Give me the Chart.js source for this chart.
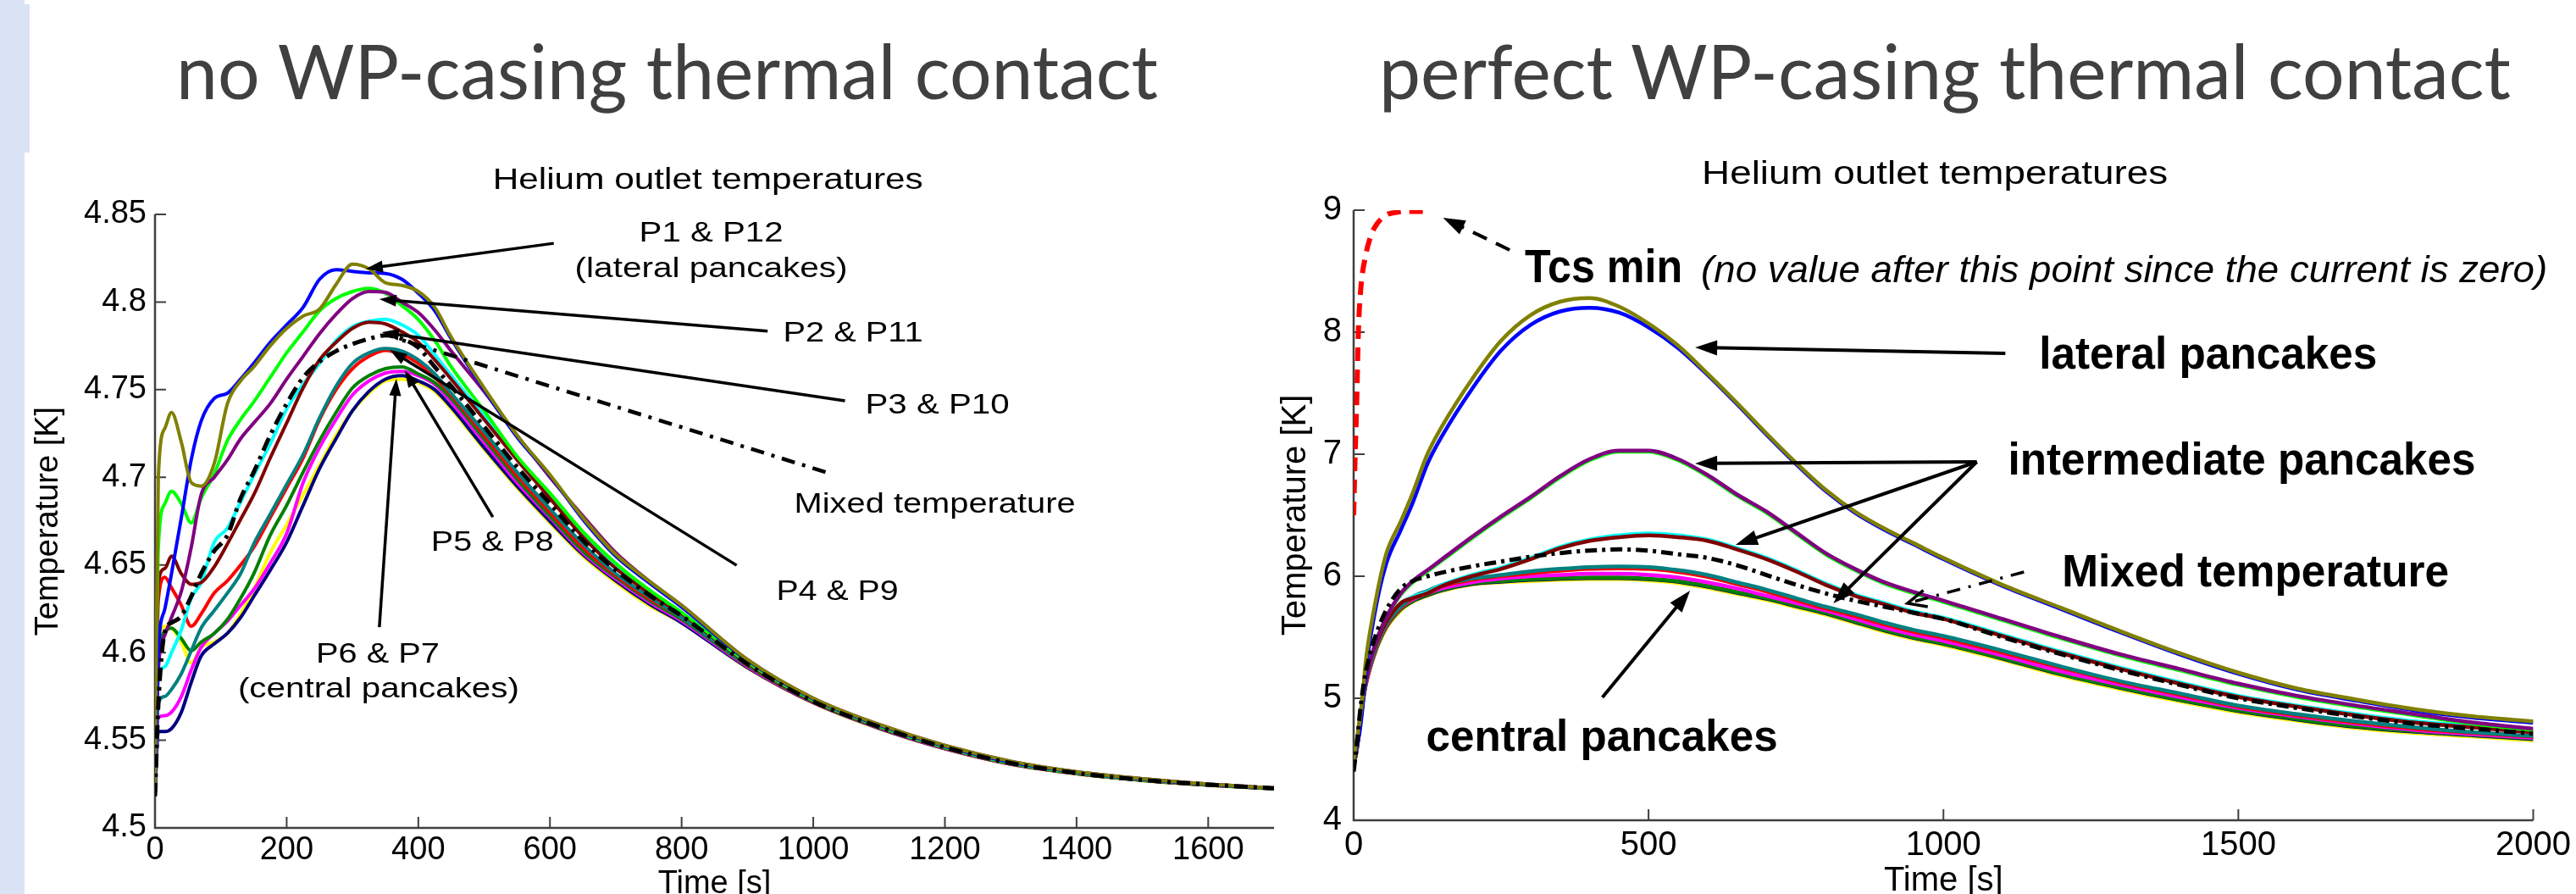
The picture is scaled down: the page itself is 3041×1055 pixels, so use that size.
<!DOCTYPE html>
<html><head><meta charset="utf-8">
<script src="https://cdn.jsdelivr.net/npm/chart.js@4.4.1/dist/chart.umd.min.js"></script>
<style>
html,body{margin:0;padding:0;background:#fff;width:3041px;height:1055px;overflow:hidden;position:relative}
.strip{position:absolute;background:#dae3f3}
.ttl{position:absolute;top:0;left:0;font-family:Lato,'Open Sans',sans-serif;font-weight:400;font-size:90px;line-height:110px;color:#404040;white-space:nowrap;transform-origin:0 0}
canvas{position:absolute;top:0}
</style></head><body>
<div class="strip" style="left:0;top:0;width:29px;height:1055px"></div>
<div class="strip" style="left:29px;top:5px;width:6px;height:175px"></div>
<div id="ttlL" class="ttl">no WP-casing thermal contact</div>
<div id="ttlR" class="ttl">perfect WP-casing thermal contact</div>
<canvas id="cL" width="1520" height="1100" style="left:0"></canvas>
<canvas id="cR" width="1581" height="1100" style="left:1460px"></canvas>
<script>
// ---------- LEFT: no WP-casing thermal contact ----------
const tL = [0,5,15,25,40,55,70,90,110,130,150,175,200,225,250,275,300,325,350,375,400,425,450,500,550,600,650,700,750,800,900,1000,1100,1200,1300,1400,1500,1600,1700];
const oliveL   = [4.52,4.70,4.728,4.737,4.72,4.697,4.695,4.708,4.742,4.755,4.763,4.775,4.785,4.792,4.796,4.810,4.8216,4.819,4.811,4.8095,4.806,4.797,4.780,4.751,4.724,4.7015,4.677,4.656,4.641,4.627,4.596,4.574,4.559,4.547,4.538,4.532,4.528,4.525,4.5228];
const blueL    = [4.52,4.60,4.625,4.645,4.677,4.71,4.732,4.745,4.748,4.756,4.765,4.777,4.787,4.797,4.813,4.8185,4.8175,4.8167,4.8163,4.813,4.805,4.795,4.779,4.750,4.723,4.701,4.676,4.655,4.640,4.626,4.5955,4.5735,4.5585,4.5465,4.5375,4.5318,4.5278,4.5248,4.5226];
const greenL   = [4.52,4.66,4.685,4.692,4.685,4.674,4.688,4.702,4.721,4.733,4.743,4.757,4.771,4.783,4.795,4.802,4.806,4.8078,4.805,4.798,4.790,4.778,4.763,4.738,4.712,4.691,4.669,4.651,4.636,4.623,4.5945,4.5728,4.558,4.546,4.537,4.5314,4.5275,4.5247,4.5225];
const purpleL  = [4.52,4.59,4.61,4.62,4.635,4.66,4.69,4.70,4.71,4.722,4.731,4.742,4.756,4.769,4.782,4.793,4.802,4.806,4.8055,4.800,4.794,4.784,4.772,4.749,4.724,4.700,4.678,4.657,4.641,4.627,4.596,4.574,4.559,4.547,4.538,4.532,4.528,4.525,4.5228];
const cyanL    = [4.52,4.585,4.592,4.600,4.613,4.631,4.640,4.663,4.671,4.686,4.701,4.719,4.739,4.753,4.765,4.778,4.786,4.789,4.7902,4.787,4.781,4.770,4.758,4.735,4.711,4.689,4.667,4.649,4.635,4.622,4.594,4.5725,4.558,4.546,4.537,4.5313,4.5274,4.5246,4.5225];
const maroonL  = [4.52,4.64,4.648,4.655,4.645,4.639,4.640,4.649,4.662,4.676,4.690,4.711,4.731,4.751,4.767,4.777,4.785,4.7885,4.7875,4.783,4.777,4.767,4.756,4.733,4.710,4.688,4.666,4.648,4.634,4.622,4.5938,4.5723,4.5578,4.546,4.537,4.5313,4.5274,4.5246,4.5225];
const mixedL   = [4.518,4.57,4.612,4.617,4.621,4.632,4.645,4.658,4.667,4.688,4.703,4.724,4.742,4.757,4.766,4.772,4.776,4.779,4.781,4.779,4.774,4.763,4.752,4.729,4.706,4.685,4.664,4.647,4.633,4.621,4.5935,4.5722,4.5577,4.546,4.537,4.5313,4.5274,4.5247,4.5226];
const tealL    = [4.52,4.571,4.575,4.579,4.588,4.601,4.614,4.624,4.634,4.645,4.662,4.679,4.696,4.713,4.734,4.752,4.765,4.771,4.7735,4.772,4.767,4.759,4.748,4.726,4.703,4.682,4.662,4.645,4.632,4.620,4.593,4.572,4.5575,4.5458,4.5368,4.5312,4.5273,4.5246,4.5225];
const redL     = [4.52,4.63,4.643,4.637,4.627,4.615,4.622,4.634,4.641,4.650,4.660,4.677,4.694,4.711,4.733,4.750,4.762,4.769,4.7724,4.770,4.765,4.757,4.747,4.724,4.701,4.680,4.660,4.644,4.631,4.620,4.5928,4.572,4.5574,4.5457,4.5367,4.5311,4.5273,4.5245,4.5225];
const dkgreenL = [4.52,4.595,4.612,4.614,4.608,4.601,4.606,4.611,4.619,4.631,4.645,4.667,4.684,4.703,4.721,4.737,4.751,4.758,4.762,4.763,4.759,4.754,4.745,4.722,4.699,4.678,4.658,4.643,4.630,4.619,4.5925,4.5718,4.5572,4.5455,4.5366,4.5311,4.5272,4.5245,4.5224];
const magentaL = [4.52,4.563,4.564,4.566,4.575,4.59,4.603,4.611,4.618,4.627,4.636,4.651,4.668,4.697,4.717,4.733,4.747,4.755,4.7595,4.7605,4.758,4.753,4.743,4.720,4.697,4.677,4.657,4.642,4.629,4.618,4.592,4.5716,4.557,4.5453,4.5365,4.531,4.5272,4.5245,4.5224];
const navyL    = [4.52,4.555,4.555,4.5566,4.566,4.583,4.598,4.605,4.611,4.62,4.632,4.647,4.663,4.684,4.705,4.722,4.738,4.749,4.756,4.758,4.755,4.750,4.740,4.717,4.695,4.675,4.656,4.641,4.628,4.617,4.5915,4.5714,4.5568,4.5452,4.5364,4.5309,4.5271,4.5244,4.5223];
const yellowL  = [4.52,4.60,4.615,4.614,4.606,4.594,4.603,4.606,4.611,4.622,4.636,4.657,4.673,4.690,4.707,4.724,4.738,4.748,4.755,4.756,4.754,4.749,4.739,4.716,4.694,4.674,4.655,4.640,4.627,4.617,4.5912,4.5712,4.5566,4.5451,4.5363,4.5308,4.527,4.5243,4.5222];
const xTicksL = [0,200,400,600,800,1000,1200,1400,1600];
const yTicksL = [4.5,4.55,4.6,4.65,4.7,4.75,4.8,4.85];

// ---------- RIGHT: perfect WP-casing thermal contact ----------
const tR = [0,5,10,15,20,35,55,80,100,125,150,200,250,300,350,400,450,500,550,600,650,700,750,800,850,900,950,1000,1100,1200,1300,1400,1500,1600,1700,1800,1900,2000];
const oliveR   = [4.5,4.65,4.8,5.0,5.28,5.74,6.18,6.45,6.68,7.0,7.23,7.61,7.93,8.14,8.25,8.28,8.21,8.07,7.89,7.66,7.42,7.17,6.93,6.71,6.53,6.39,6.27,6.15,5.93,5.74,5.55,5.37,5.21,5.08,4.99,4.91,4.85,4.81];
const blueR    = [4.5,4.6,4.72,4.92,5.2,5.68,6.1,6.38,6.6,6.92,7.15,7.53,7.85,8.06,8.17,8.20,8.16,8.04,7.87,7.65,7.41,7.16,6.92,6.70,6.52,6.38,6.26,6.14,5.92,5.73,5.54,5.36,5.20,5.07,4.98,4.90,4.84,4.80];
const purpleR  = [4.5,4.62,4.8,4.98,5.12,5.42,5.66,5.86,5.96,6.05,6.14,6.32,6.49,6.65,6.82,6.96,7.03,7.03,6.96,6.83,6.67,6.53,6.36,6.19,6.06,5.95,5.87,5.80,5.65,5.50,5.36,5.24,5.12,5.02,4.94,4.87,4.80,4.75];
const greenR   = [4.5,4.62,4.8,4.98,5.12,5.42,5.66,5.85,5.95,6.04,6.13,6.31,6.48,6.64,6.81,6.95,7.02,7.02,6.95,6.82,6.66,6.52,6.35,6.18,6.05,5.94,5.86,5.79,5.64,5.49,5.35,5.23,5.11,5.01,4.93,4.86,4.79,4.74];
const cyanR    = [4.45,4.6,4.8,5.0,5.15,5.4,5.62,5.78,5.83,5.87,5.93,6.01,6.07,6.15,6.24,6.30,6.335,6.35,6.335,6.30,6.23,6.15,6.05,5.94,5.85,5.78,5.71,5.66,5.52,5.38,5.25,5.13,5.02,4.94,4.87,4.81,4.77,4.73];
const maroonR  = [4.45,4.6,4.8,5.0,5.15,5.4,5.62,5.78,5.82,5.86,5.92,6.00,6.06,6.14,6.23,6.29,6.32,6.335,6.32,6.29,6.22,6.14,6.04,5.93,5.84,5.77,5.70,5.65,5.51,5.37,5.24,5.12,5.01,4.93,4.86,4.80,4.76,4.72];
const mixedR   = [4.4,4.6,4.85,5.05,5.2,5.48,5.72,5.9,5.96,6.0,6.03,6.08,6.12,6.16,6.19,6.21,6.22,6.21,6.18,6.15,6.09,6.01,5.93,5.86,5.80,5.75,5.70,5.65,5.50,5.36,5.23,5.11,5.00,4.92,4.85,4.79,4.75,4.71];
const tealR    = [4.45,4.58,4.77,4.97,5.12,5.38,5.6,5.75,5.83,5.88,5.93,5.98,6.01,6.04,6.06,6.075,6.08,6.075,6.05,6.01,5.95,5.89,5.82,5.75,5.69,5.62,5.56,5.51,5.39,5.26,5.14,5.04,4.94,4.87,4.81,4.76,4.72,4.69];
const redR     = [4.45,4.58,4.77,4.96,5.11,5.37,5.59,5.74,5.82,5.87,5.92,5.97,6.0,6.025,6.045,6.06,6.065,6.06,6.035,5.995,5.935,5.875,5.805,5.735,5.675,5.605,5.545,5.495,5.375,5.25,5.13,5.03,4.93,4.86,4.80,4.75,4.715,4.685];
const magentaR = [4.45,4.57,4.76,4.96,5.1,5.37,5.59,5.74,5.81,5.86,5.9,5.95,5.98,6.0,6.01,6.02,6.02,6.01,5.99,5.95,5.9,5.84,5.78,5.72,5.65,5.58,5.52,5.47,5.35,5.22,5.11,5.01,4.92,4.85,4.79,4.74,4.705,4.675];
const dkgreenR = [4.45,4.57,4.75,4.95,5.1,5.36,5.58,5.73,5.8,5.85,5.89,5.94,5.96,5.975,5.985,5.99,5.99,5.98,5.96,5.92,5.87,5.82,5.76,5.70,5.63,5.56,5.50,5.45,5.33,5.20,5.09,4.99,4.90,4.83,4.77,4.73,4.70,4.67];
const navyR    = [4.45,4.57,4.75,4.95,5.1,5.36,5.58,5.73,5.795,5.845,5.885,5.935,5.955,5.97,5.98,5.985,5.985,5.975,5.955,5.915,5.865,5.815,5.755,5.695,5.625,5.555,5.495,5.445,5.325,5.195,5.085,4.985,4.895,4.825,4.765,4.725,4.695,4.665];
const yellowR  = [4.45,4.56,4.74,4.94,5.09,5.35,5.57,5.72,5.79,5.84,5.88,5.93,5.95,5.96,5.97,5.975,5.975,5.965,5.945,5.905,5.855,5.805,5.745,5.685,5.615,5.545,5.485,5.435,5.315,5.185,5.075,4.975,4.885,4.815,4.755,4.715,4.685,4.655];
const tTcs   = [0,2,5,8,12,20,30,40,55,70,90,125];
const tcsMin = [6.5,6.9,7.4,8.0,8.35,8.62,8.8,8.89,8.96,8.98,8.99,8.99];
const xTicksR = [0,500,1000,1500,2000];
const yTicksR = [4,5,6,7,8,9];

const C = {olive:'#808000',blue:'#0000ff',green:'#00ff00',purple:'#800080',cyan:'#00ffff',maroon:'#800000',teal:'#008080',red:'#ff0000',dkgreen:'#008000',magenta:'#ff00ff',navy:'#000080',yellow:'#ffff00',black:'#000000'};
const FONT = "'Liberation Sans', Arial, Helvetica, sans-serif";

function pts(xs, ys){ return xs.map((x,i)=>({x:x, y:ys[i]})); }
function ds(label, xs, ys, color, width, dash){
  return {label, data: pts(xs,ys), borderColor: color, backgroundColor: color, borderWidth: width,
    borderDash: dash || [], pointRadius: 0, fill: false, cubicInterpolationMode: 'monotone'};
}

function fitText(ctx, text, px, py, font, w, align){
  ctx.save(); ctx.font = font; ctx.fillStyle = '#000'; ctx.textBaseline = 'alphabetic'; ctx.textAlign = 'left';
  const nat = ctx.measureText(text).width; const s = w / nat;
  let x0 = px; if (align === 'center') x0 = px - w/2;
  ctx.translate(x0, py); ctx.scale(s, 1); ctx.fillText(text, 0, 0); ctx.restore();
}
function arrow(ctx, x1, y1, x2, y2, o){
  ctx.save(); ctx.strokeStyle = '#000'; ctx.fillStyle = '#000'; ctx.lineWidth = o.lw; ctx.lineCap = 'butt';
  const ang = Math.atan2(y2-y1, x2-x1), c = Math.cos(ang), s = Math.sin(ang);
  const hl = o.hl || 0, hw = o.hw || 0;
  let ex = x2, ey = y2;
  if (o.head === 'filled') { ex = x2 - c*hl*0.7; ey = y2 - s*hl*0.7; }
  ctx.setLineDash(o.dash || []);
  ctx.beginPath(); ctx.moveTo(x1, y1); ctx.lineTo(ex, ey); ctx.stroke();
  ctx.setLineDash([]);
  const bx = x2 - c*hl, by = y2 - s*hl;
  if (o.head === 'filled') {
    ctx.beginPath(); ctx.moveTo(x2, y2); ctx.lineTo(bx - s*hw, by + c*hw); ctx.lineTo(bx + s*hw, by - c*hw); ctx.closePath(); ctx.fill();
  } else if (o.head === 'open') {
    ctx.beginPath(); ctx.moveTo(bx - s*hw, by + c*hw); ctx.lineTo(x2, y2); ctx.lineTo(bx + s*hw, by - c*hw); ctx.stroke();
  }
  ctx.restore();
}

function deco(cfg){
  return {
    id: 'deco',
    beforeDatasetsDraw(chart){
      const {ctx, chartArea: a, scales: {x, y}} = chart;
      ctx.save();
      ctx.strokeStyle = '#3f3f3f'; ctx.lineWidth = 2.5;
      ctx.beginPath(); ctx.moveTo(a.left, a.top); ctx.lineTo(a.left, a.bottom); ctx.lineTo(a.right, a.bottom); ctx.stroke();
      ctx.lineWidth = 2;
      ctx.beginPath();
      cfg.xTicks.forEach(v => { const p = x.getPixelForValue(v); ctx.moveTo(p, a.bottom); ctx.lineTo(p, a.bottom - cfg.tick); });
      cfg.yTicks.forEach(v => { const p = y.getPixelForValue(v); ctx.moveTo(a.left, p); ctx.lineTo(a.left + cfg.tick, p); });
      ctx.stroke(); ctx.restore();
    },
    afterDatasetsDraw(chart){
      const {ctx, scales: {x, y}} = chart;
      cfg.arrows.forEach(r => arrow(ctx, x.getPixelForValue(r.from[0]), y.getPixelForValue(r.from[1]),
        x.getPixelForValue(r.to[0]), y.getPixelForValue(r.to[1]), r));
      cfg.notes.forEach(n => fitText(ctx, n.text, x.getPixelForValue(n.at[0]), y.getPixelForValue(n.at[1]), n.font, n.w, n.align));
    }
  };
}

function axisOpts(min, max, ticks, size, tickPad, title, tPad, fitKey, fitVal){
  return {
    type: 'linear', min, max,
    grid: {display: false, drawTicks: false}, border: {display: false},
    afterBuildTicks: s => { s.ticks = ticks.map(v => ({value: v})); },
    afterFit: s => { s[fitKey] = fitVal; },
    ticks: {autoSkip: false, maxRotation: 0, padding: tickPad, color: '#000', font: {family: FONT, size}, callback: v => String(v)},
    title: {display: true, text: title, color: '#000', font: {family: FONT, size}, padding: tPad}
  };
}

// ----- Left chart -----
const nL = (s) => s + 'px ' + FONT;
const leftNotes = [
  {text:'Helium outlet temperatures', at:[840,4.8644], font:nL(35), w:508, align:'center'},
  {text:'P1 & P12', at:[845,4.8345], font:nL(34), w:170, align:'center'},
  {text:'(lateral pancakes)', at:[845,4.8142], font:nL(34), w:322, align:'center'},
  {text:'P2 & P11', at:[954.3,4.7774], font:nL(34), w:165},
  {text:'P3 & P10', at:[1079.1,4.7363], font:nL(34), w:170},
  {text:'Mixed temperature', at:[971.1,4.6798], font:nL(34), w:332},
  {text:'P4 & P9', at:[944.1,4.630], font:nL(34), w:144},
  {text:'P5 & P8', at:[419.3,4.658], font:nL(34), w:145},
  {text:'P6 & P7', at:[244.4,4.5942], font:nL(34), w:146},
  {text:'(central pancakes)', at:[126,4.5744], font:nL(34), w:332}
];
const aL = {lw:3.5, head:'filled', hl:20, hw:7};
const leftArrows = [
  Object.assign({from:[605.8,4.8335], to:[320.3,4.819]}, aL),
  Object.assign({from:[930.7,4.7834], to:[340.8,4.8016]}, aL),
  Object.assign({from:[1048.2,4.7436], to:[344.7,4.7828]}, aL),
  {from:[1018.6,4.703], to:[365,4.7795], lw:4.5, dash:[16,9,4,9]},
  Object.assign({from:[883.6,4.6498], to:[356.9,4.7726]}, aL),
  Object.assign({from:[513.2,4.6774], to:[379.4,4.761]}, aL),
  Object.assign({from:[340.8,4.6145], to:[366.6,4.7562]}, aL)
];

new Chart(document.getElementById('cL'), {
  type: 'line',
  data: {datasets: [
    ds('Mixed temperature', tL, mixedL, C.black, 5, [16,7,4,7]),
    ds('P1', tL, oliveL, C.olive, 4),
    ds('P12', tL, blueL, C.blue, 4),
    ds('P11', tL, purpleL, C.purple, 4),
    ds('P2', tL, greenL, C.green, 4),
    ds('P10', tL, maroonL, C.maroon, 4),
    ds('P3', tL, cyanL, C.cyan, 4),
    ds('P9', tL, tealL, C.teal, 4),
    ds('P4', tL, redL, C.red, 4),
    ds('P8', tL, dkgreenL, C.dkgreen, 4),
    ds('P5', tL, magentaL, C.magenta, 4),
    ds('P7', tL, navyL, C.navy, 4),
    ds('P6', tL, yellowL, C.yellow, 4)
  ]},
  options: {
    responsive: false, animation: false, devicePixelRatio: 1,
    layout: {padding: {left: 0, top: 253, right: 16, bottom: 0}},
    plugins: {legend: {display: false}, tooltip: {enabled: false}, title: {display: false}},
    scales: {
      x: axisOpts(0, 1700, xTicksL, 38, 4, 'Time [s]', {top: 0, bottom: 34}, 'height', 123),
      y: axisOpts(4.5, 4.85, yTicksL, 38, 10, 'Temperature [K]', {top: 35, bottom: 0}, 'width', 183)
    }
  },
  plugins: [deco({xTicks: xTicksL, yTicks: yTicksL, tick: 13, notes: leftNotes, arrows: leftArrows})]
});

// ----- Right chart -----
const bR = (s) => 'bold ' + s + 'px ' + FONT;
const rightNotes = [
  {text:'Helium outlet temperatures', at:[590.4,9.217], font:'39px ' + FONT, w:550},
  {text:'Tcs min', at:[290.2,8.4076], font:bR(55), w:186},
  {text:'(no value after this point since the current is zero)', at:[589,8.4076], font:'italic 44px ' + FONT, w:999},
  {text:'lateral pancakes', at:[1162.3,7.703], font:bR(54), w:399},
  {text:'intermediate pancakes', at:[1109.4,6.833], font:bR(54), w:552},
  {text:'Mixed temperature', at:[1200.9,5.914], font:bR(54), w:457},
  {text:'central pancakes', at:[122.9,4.569], font:bR(52), w:415}
];
const aR = {lw:4, head:'filled', hl:26, hw:9};
const rightArrows = [
  {from:[264.5,8.674], to:[151.5,8.9375], lw:4, dash:[18,12], head:'filled', hl:26, hw:9},
  Object.assign({from:[1105,7.826], to:[579,7.875]}, aR),
  Object.assign({from:[1056.5,6.9375], to:[579,6.924]}, aR),
  Object.assign({from:[1056.5,6.9375], to:[647.6,6.257]}, aR),
  Object.assign({from:[1056.5,6.9375], to:[813.4,5.778]}, aR),
  {from:[1136.5,6.035], to:[939.2,5.778], lw:3.5, dash:[16,10,3,10], head:'open', hl:22, hw:10},
  Object.assign({from:[421.7,5.007], to:[570.4,5.882]}, aR)
];

new Chart(document.getElementById('cR'), {
  type: 'line',
  data: {datasets: [
    ds('Tcs min', tTcs, tcsMin, C.red, 6, [16,10]),
    ds('Mixed temperature', tR, mixedR, C.black, 5, [14,6,4,6]),
    ds('P1', tR, oliveR, C.olive, 4.5),
    ds('P12', tR, blueR, C.blue, 4.5),
    ds('P11', tR, purpleR, C.purple, 4.5),
    ds('P2', tR, greenR, C.green, 4.5),
    ds('P10', tR, maroonR, C.maroon, 4.5),
    ds('P3', tR, cyanR, C.cyan, 4.5),
    ds('P9', tR, tealR, C.teal, 4.5),
    ds('P4', tR, redR, C.red, 4.5),
    ds('P5', tR, magentaR, C.magenta, 4.5),
    ds('P8', tR, dkgreenR, C.dkgreen, 4.5),
    ds('P7', tR, navyR, C.navy, 4.5),
    ds('P6', tR, yellowR, C.yellow, 4.5)
  ]},
  options: {
    responsive: false, animation: false, devicePixelRatio: 1,
    layout: {padding: {left: 0, top: 248, right: 44, bottom: 0}},
    plugins: {legend: {display: false}, tooltip: {enabled: false}, title: {display: false}},
    scales: {
      x: axisOpts(0, 2000, xTicksR, 40, 6, 'Time [s]', {top: 0, bottom: 36}, 'height', 132),
      y: axisOpts(4, 9, yTicksR, 40, 14, 'Temperature [K]', {top: 46, bottom: 0}, 'width', 138)
    }
  },
  plugins: [deco({xTicks: xTicksR, yTicks: yTicksR, tick: 13, notes: rightNotes, arrows: rightArrows})]
});

// ----- Slide titles (DOM text, fitted to the reference width) -----
function placeTitle(id, left, width, baseline){
  const el = document.getElementById(id);
  let mk = el.querySelector('span');
  if (!mk) {
    mk = document.createElement('span');
    mk.style.cssText = 'display:inline-block;width:0;height:0;vertical-align:baseline';
    el.appendChild(mk);
  }
  el.style.transform = 'none'; el.style.left = left + 'px'; el.style.top = '0px';
  const w = el.getBoundingClientRect().width;
  const b = mk.getBoundingClientRect().top;
  el.style.top = (baseline - b) + 'px';
  el.style.transform = 'scaleX(' + (width / w) + ')';
}
function titles(){ placeTitle('ttlL', 208, 1159, 117); placeTitle('ttlR', 1628, 1336, 117); }
titles();
if (document.fonts && document.fonts.ready) document.fonts.ready.then(titles);
</script>
</body></html>
